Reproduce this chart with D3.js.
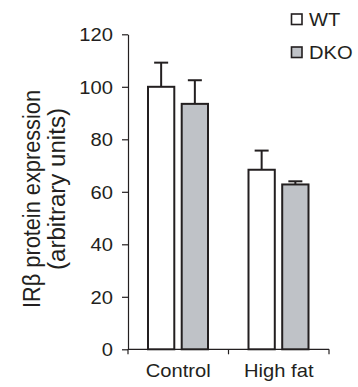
<!DOCTYPE html>
<html>
<head>
<meta charset="utf-8">
<script src="https://cdn.jsdelivr.net/npm/d3@7"></script>
<style>
  html, body { margin: 0; padding: 0; background: #fff; }
  svg { display: block; }
</style>
</head>
<body>
<div id="chart"></div>
<script>
// IRβ protein expression, WT vs DKO, control vs high fat diet

const categories = ['Control', 'High fat'];
const series = ['WT', 'DKO'];
const wtMean = [100, 68.4];
const wtErr = [9.2, 7.3];
const dkoMean = [93.5, 62.8];
const dkoErr = [9.0, 1.2];
const yTicks = [0, 20, 40, 60, 80, 100, 120];

const W = 358, H = 387;
const INK = '#231f20';
const FILLS = { WT: '#ffffff', DKO: '#bfc2c7' };
const SX = 1.12; // horizontal stretch of the original lettering

const svg = d3.select('#chart').append('svg')
    .attr('width', W).attr('height', H)
    .style('font-family', 'Liberation Sans, Arial, sans-serif');

const plotL = 128, plotR = 329, plotT = 34.3, plotB = 349.3;

const y = d3.scaleLinear().domain([0, 120]).range([plotB, plotT]);
const x = d3.scaleBand().domain(categories).range([plotL, plotR]);
const xs = d3.scaleBand().domain(series).range([20, 80]).paddingInner(0.22);

const rows = [];
categories.forEach((c, i) => {
    rows.push({ cat: c, s: 'WT', mean: wtMean[i], err: wtErr[i] });
    rows.push({ cat: c, s: 'DKO', mean: dkoMean[i], err: dkoErr[i] });
});

// y axis
const yAxis = svg.append('g')
    .attr('transform', `translate(${plotL},0)`)
    .call(d3.axisLeft(y).tickValues(yTicks).tickSize(6).tickSizeOuter(0));
yAxis.select('.domain').attr('stroke', INK).attr('stroke-width', 1.2);
yAxis.selectAll('.tick line').attr('stroke', INK).attr('stroke-width', 1.2);
yAxis.selectAll('.tick text')
    .attr('x', -13.4).attr('dy', '0.36em')
    .attr('transform', `scale(${SX},1)`)
    .attr('fill', INK).attr('font-size', '18px')
    .attr('font-family', 'Liberation Sans, Arial, sans-serif');

// x axis: line with ticks at group boundaries
const xAxis = svg.append('g').attr('transform', `translate(0,${plotB})`);
xAxis.append('line')
    .attr('x1', plotL).attr('x2', plotR)
    .attr('stroke', INK).attr('stroke-width', 1.2);
const bounds = categories.map(c => x(c)).concat([plotR]);
xAxis.selectAll('line.tk').data(bounds).join('line')
    .attr('class', 'tk')
    .attr('x1', d => d).attr('x2', d => d)
    .attr('y1', 0).attr('y2', 5)
    .attr('stroke', INK).attr('stroke-width', 1.2);
xAxis.selectAll('text').data(categories).join('text')
    .attr('transform', d => `translate(${x(d) + x.bandwidth() / 2},28) scale(${SX},1)`)
    .attr('text-anchor', 'middle')
    .attr('fill', INK).attr('font-size', '18px')
    .text(d => d);

// bars
const bars = svg.append('g');
bars.selectAll('rect').data(rows).join('rect')
    .attr('x', d => x(d.cat) + xs(d.s))
    .attr('y', d => y(d.mean))
    .attr('width', xs.bandwidth())
    .attr('height', d => y(0) - y(d.mean))
    .attr('fill', d => FILLS[d.s])
    .attr('stroke', INK).attr('stroke-width', 2);

// upper error bars
const errs = svg.append('g');
rows.forEach(d => {
    const cx = x(d.cat) + xs(d.s) + xs.bandwidth() / 2;
    errs.append('line')
        .attr('x1', cx).attr('x2', cx)
        .attr('y1', y(d.mean)).attr('y2', y(d.mean + d.err))
        .attr('stroke', INK).attr('stroke-width', 2);
    errs.append('line')
        .attr('x1', cx - 7).attr('x2', cx + 7)
        .attr('y1', y(d.mean + d.err)).attr('y2', y(d.mean + d.err))
        .attr('stroke', INK).attr('stroke-width', 2);
});

// legend
const legend = svg.append('g');
series.forEach((s, i) => {
    const ly = 14 + i * 33;
    legend.append('rect')
        .attr('x', 291.5).attr('y', ly)
        .attr('width', 10.5).attr('height', 10.5)
        .attr('fill', FILLS[s]).attr('stroke', INK).attr('stroke-width', 1.6);
    legend.append('text')
        .attr('transform', `translate(309,${ly + 12}) scale(${SX},1)`)
        .attr('fill', INK).attr('font-size', '18px')
        .text(s);
});

// y label, two lines
const yl = svg.append('g');
yl.append('text')
    .attr('transform', 'translate(40,199) rotate(-90)')
    .attr('text-anchor', 'middle')
    .attr('fill', INK).attr('font-size', '23px')
    .attr('textLength', 218).attr('lengthAdjust', 'spacingAndGlyphs')
    .text('IRβ protein  expression');
yl.append('text')
    .attr('transform', 'translate(65,189) rotate(-90)')
    .attr('text-anchor', 'middle')
    .attr('fill', INK).attr('font-size', '23px')
    .attr('textLength', 162).attr('lengthAdjust', 'spacingAndGlyphs')
    .text('(arbitrary units)');
</script>
</body>
</html>
